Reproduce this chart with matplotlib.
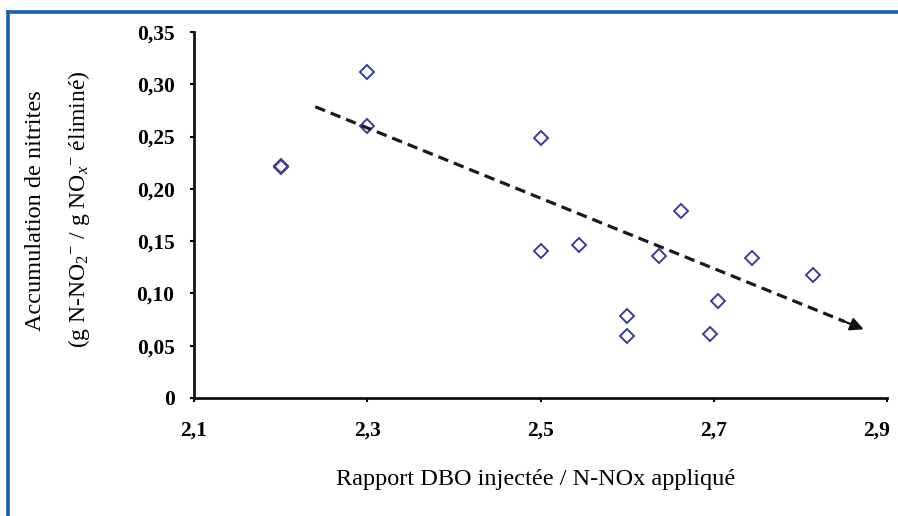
import matplotlib
matplotlib.use("Agg")
import matplotlib.pyplot as plt
import matplotlib.transforms as mtransforms
from matplotlib.lines import Line2D

# ratio DBO injectée / N-NOx appliqué vs accumulation de nitrites
ratio = [2.20, 2.20, 2.30, 2.30, 2.50, 2.50, 2.545, 2.60, 2.60,
         2.637, 2.662, 2.696, 2.705, 2.744, 2.815]
accum = [0.222, 0.221, 0.312, 0.260, 0.249, 0.141, 0.146, 0.078, 0.059,
         0.136, 0.179, 0.061, 0.093, 0.134, 0.118]

# trend arrow (start / end)
trend_x = [2.24, 2.873]
trend_y = [0.2785, 0.0657]

x_ticks = [2.1, 2.3, 2.5, 2.7, 2.9]
y_ticks = [0, 0.05, 0.10, 0.15, 0.20, 0.25, 0.30, 0.35]

SERIF = ["Liberation Serif", "DejaVu Serif"]
plt.rcParams["font.family"] = SERIF
plt.rcParams["mathtext.fontset"] = "custom"
plt.rcParams["mathtext.rm"] = "Liberation Serif"
plt.rcParams["mathtext.it"] = "Liberation Serif:italic"

fig = plt.figure(figsize=(8.98, 5.16), dpi=100)
ax = fig.add_axes([0.216, 0.2287, 0.7718, 0.7093])

ax.plot(ratio, accum, linestyle="none", marker="D", markersize=6.8,
        markerfacecolor="none", markeredgecolor="#3a3c9c", markeredgewidth=1.4)

# dashed trend line, then a solid filled head at the end
frac = 0.965
mid_x = trend_x[0] + frac * (trend_x[1] - trend_x[0])
mid_y = trend_y[0] + frac * (trend_y[1] - trend_y[0])
ax.plot([trend_x[0], mid_x], [trend_y[0], mid_y], color="#1a1a1a", lw=2.3,
        linestyle=(0, (3.3, 1.9)))
ax.annotate("", xy=(trend_x[1], trend_y[1]), xytext=(mid_x, mid_y),
            arrowprops=dict(arrowstyle="-|>", lw=1.5, color="#111111",
                            mutation_scale=20, shrinkA=0, shrinkB=0))

ax.set_xlim(2.1, 2.9)
ax.set_ylim(0, 0.35)
ax.set_xticks(x_ticks)
ax.set_yticks(y_ticks)
ax.set_xticklabels([f"{v:.1f}".replace(".", ",") for v in x_ticks])
ax.set_yticklabels(["0"] + [f"{v:.2f}".replace(".", ",") for v in y_ticks[1:]])

for s in ["top", "right"]:
    ax.spines[s].set_visible(False)
for s in ["left", "bottom"]:
    ax.spines[s].set_linewidth(2.0)
    ax.spines[s].set_color("#111111")

ax.tick_params(axis="both", length=3, width=1.5, labelsize=15.5)
ax.tick_params(axis="x", pad=13)
ax.tick_params(axis="y", pad=11)
for lab in ax.get_xticklabels() + ax.get_yticklabels():
    lab.set_fontweight("bold")

# last x label pushed left so it stays inside the picture
last = ax.get_xticklabels()[-1]
last.set_transform(last.get_transform() +
                   mtransforms.ScaledTranslation(-0.10, 0, fig.dpi_scale_trans))

fig.text(0.597, 0.070, "Rapport DBO injectée / N-NOx appliqué",
         ha="center", va="center", fontsize=17.5)
fig.text(0.040, 0.591, "Accumulation de nitrites", rotation=90,
         ha="center", va="center", fontsize=17.5)
fig.text(0.088, 0.595, r"(g N-NO$_2$$^{-}$ / g NO$_x$$^{-}$ éliminé)", rotation=90,
         ha="center", va="center", fontsize=17)

# blue frame (left and top)
fig.add_artist(Line2D([0.009, 0.009], [0, 0.977], transform=fig.transFigure,
                      color="#1a5fb4", lw=2.6))
fig.add_artist(Line2D([0.009, 1.0], [0.977, 0.977], transform=fig.transFigure,
                      color="#1a5fb4", lw=2.6))

fig.savefig("out.png", dpi=100)
